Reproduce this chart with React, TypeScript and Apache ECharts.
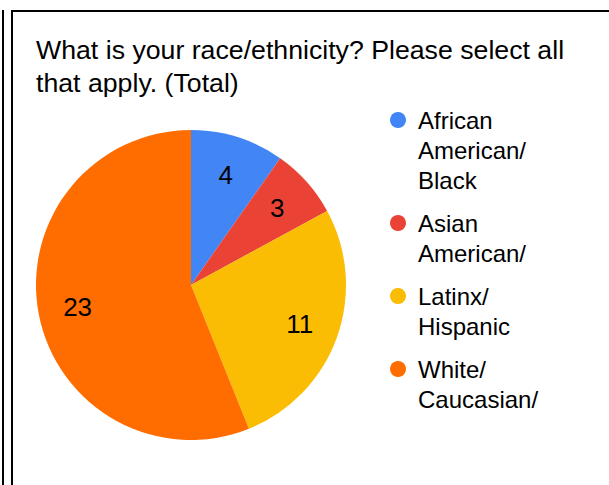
import React, { useEffect, useRef } from "react";
import * as echarts from "echarts";

const titleText = "What is your race/ethnicity? Please select all\nthat apply. (Total)";
const categories = ["African American/Black", "Asian American/", "Latinx/Hispanic", "White/Caucasian/"];
const legendLabels = ["African\nAmerican/\nBlack", "Asian\nAmerican/", "Latinx/\nHispanic", "White/\nCaucasian/"];
const counts = [4, 3, 11, 23];
const colors = ["#4285F4", "#EA4335", "#FBBC04", "#FF6D01"];

const FONT = "'Liberation Sans', Arial, sans-serif";

export default function App() {
  const ref = useRef<HTMLDivElement>(null);
  useEffect(() => {
    if (!ref.current) return;
    const chart = echarts.init(ref.current, undefined, { renderer: "svg" });
    const data = categories.map((name, i) => ({
      name,
      value: counts[i],
      itemStyle: { color: colors[i] },
    }));
    // Pad each legend label with blank lines above so the icon lines up with its first line
    const legendText = (name: string) => {
      const label = legendLabels[categories.indexOf(name)];
      const n = label.split("\n").length;
      return "\n".repeat(n - 1) + label;
    };
    chart.setOption({
      animation: false,
      backgroundColor: "#ffffff",
      textStyle: { fontFamily: FONT },
      title: {
        text: titleText,
        left: 36,
        top: 33,
        padding: 0,
        textStyle: {
          fontFamily: FONT,
          fontSize: 26.7,
          fontWeight: "normal",
          color: "#000",
          lineHeight: 33,
        },
      },
      legend: {
        orient: "vertical",
        left: 390,
        top: 45,
        padding: 0,
        itemGap: -17,
        itemWidth: 30,
        itemHeight: 16,
        icon: "circle",
        selectedMode: false,
        data: categories,
        formatter: legendText,
        textStyle: {
          fontFamily: FONT,
          fontSize: 24,
          lineHeight: 30,
          color: "#000",
        },
      },
      graphic: [
        { type: "rect", shape: { x: 2, y: 10, width: 2, height: 475 }, style: { fill: "#000" } },
        { type: "rect", shape: { x: 11, y: 10, width: 2, height: 475 }, style: { fill: "#000" } },
        { type: "rect", shape: { x: 11, y: 10, width: 598, height: 2 }, style: { fill: "#000" } },
      ],
      series: [
        {
          type: "pie",
          center: [191, 285],
          radius: [0, 155],
          startAngle: 90,
          clockwise: true,
          silent: true,
          label: { show: false },
          labelLine: { show: false },
          data,
        },
        {
          type: "pie",
          center: [191, 285],
          radius: [70, 155],
          startAngle: 90,
          clockwise: true,
          silent: true,
          itemStyle: { color: "transparent" },
          label: {
            show: true,
            position: "inside",
            formatter: "{c}",
            fontFamily: FONT,
            fontSize: 26,
            color: "#000",
          },
          labelLine: { show: false },
          data: categories.map((name, i) => ({ name, value: counts[i], itemStyle: { color: "transparent" } })),
        },
      ],
    });
    return () => chart.dispose();
  }, []);
  return (
    <div
      ref={ref}
      style={{ position: "absolute", left: 0, top: 0, width: 609, height: 485 }}
    />
  );
}
